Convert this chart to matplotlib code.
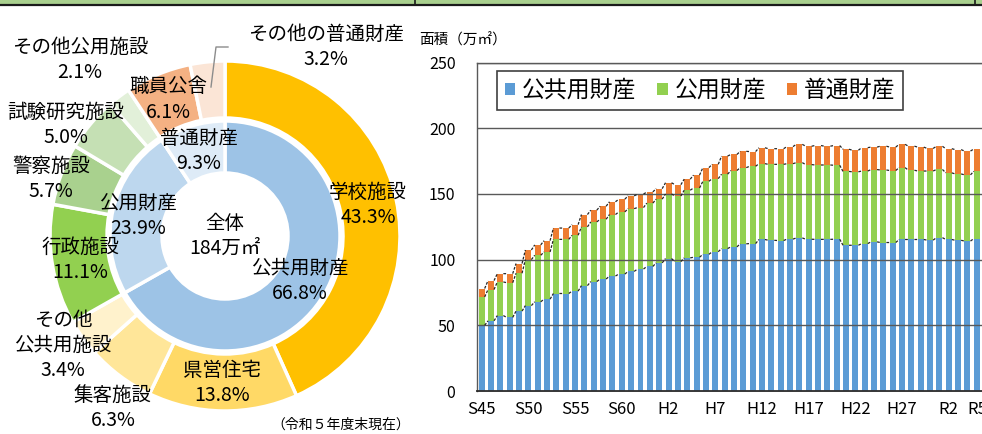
import matplotlib
matplotlib.use('Agg')
import matplotlib.pyplot as plt
from matplotlib.patches import Patch, Rectangle
from matplotlib.lines import Line2D
import numpy as np

plt.rcParams['font.family'] = ['Noto Sans CJK JP', 'DejaVu Sans']

# ---------------- data ----------------
inner_labels = ['公共用財産', '公用財産', '普通財産']
inner_values = [66.8, 23.9, 9.3]
outer_labels = ['学校施設', '県営住宅', '集客施設', 'その他公共用施設',
                '行政施設', '警察施設', '試験研究施設', 'その他公用施設',
                '職員公舎', 'その他の普通財産']
outer_values = [43.3, 13.8, 6.3, 3.4, 11.1, 5.7, 5.0, 2.1, 6.1, 3.2]
total_label = '184万㎡'
asof_label = '（令和５年度末現在）'

categories = ['S45', 'S46', 'S47', 'S48', 'S49', 'S50', 'S51', 'S52', 'S53', 'S54',
              'S55', 'S56', 'S57', 'S58', 'S59', 'S60', 'S61', 'S62', 'S63',
              'H1', 'H2', 'H3', 'H4', 'H5', 'H6', 'H7', 'H8', 'H9', 'H10',
              'H11', 'H12', 'H13', 'H14', 'H15', 'H16', 'H17', 'H18', 'H19', 'H20',
              'H21', 'H22', 'H23', 'H24', 'H25', 'H26', 'H27', 'H28', 'H29', 'H30',
              'R1', 'R2', 'R3', 'R4', 'R5']
tick_labels = ['S45', 'S50', 'S55', 'S60', 'H2', 'H7', 'H12', 'H17', 'H22', 'H27', 'R2', 'R5']

series_names = ['公共用財産', '公用財産', '普通財産']
public = [50.0, 53.4, 57.4, 56.0, 60.8, 65.0, 67.9, 69.9, 74.2, 74.2,
          76.0, 80.2, 83.3, 85.2, 87.5, 89.0, 91.0, 92.8, 94.8,
          97.5, 100.8, 98.5, 101.3, 101.8, 104.0, 106.0, 108.4, 109.7, 112.0,
          112.2, 115.3, 114.7, 114.5, 115.6, 116.5, 115.5, 115.4, 115.4, 115.5,
          110.9, 110.9, 112.2, 113.5, 113.0, 113.0, 115.3, 115.3, 115.3, 114.8,
          116.7, 115.3, 114.7, 114.1, 116.0]
official = [21.6, 23.8, 25.6, 26.4, 28.8, 35.0, 35.4, 35.9, 41.2, 41.2,
            42.5, 44.7, 45.4, 45.5, 46.8, 47.3, 47.8, 46.8, 48.2,
            48.5, 49.2, 49.9, 51.5, 52.7, 55.6, 55.6, 56.6, 58.1, 58.0,
            58.8, 57.7, 57.8, 58.0, 57.4, 57.3, 56.8, 56.6, 56.6, 56.3,
            56.2, 55.9, 55.2, 55.0, 55.2, 54.8, 54.7, 52.7, 52.1, 52.6,
            51.9, 50.7, 50.5, 50.4, 51.2]
general = [6.4, 6.8, 6.3, 6.9, 7.4, 7.3, 7.9, 8.6, 8.6, 8.6,
           8.1, 9.4, 8.9, 9.9, 9.7, 9.7, 9.7, 10.2, 8.5,
           8.0, 8.5, 8.6, 8.4, 9.8, 10.4, 10.9, 13.8, 12.2, 12.4,
           11.2, 12.1, 11.9, 11.9, 13.0, 13.9, 14.0, 14.8, 14.3, 15.0,
           16.9, 16.4, 17.8, 17.1, 18.1, 17.8, 17.7, 18.3, 18.2, 17.2,
           17.6, 18.4, 18.5, 18.1, 17.0]

# ---------------- style ----------------
inner_colors = ['#9DC3E6', '#BDD7EE', '#DEEBF7']
outer_colors = ['#FFC000', '#FFD966', '#FFE699', '#FFF2CC',
                '#92D050', '#A9D18E', '#C5E0B4', '#E2F0D9',
                '#F4B183', '#FBE5D6']
bar_colors = ['#5B9BD5', '#92D050', '#ED7D31']

W, H = 982, 434
fig = plt.figure(figsize=(W / 100, H / 100), dpi=100)
fig.patch.set_facecolor('white')


def fx(px):
    return px / W


def fy(py):
    return 1 - py / H


# top band
fig.add_artist(Rectangle((0, fy(4.5)), 1, 4.5 / H, transform=fig.transFigure,
                         facecolor='#A9D08E', edgecolor='none', zorder=0))
fig.add_artist(Line2D([0, 1], [fy(4.8), fy(4.8)], transform=fig.transFigure,
                      color='#1a1a1a', lw=1.6))
for vx in (415, 975):
    fig.add_artist(Line2D([fx(vx), fx(vx)], [1, fy(4.8)], transform=fig.transFigure,
                          color='#1a1a1a', lw=1.2))

# ---------------- donut ----------------
cx, cy, half = 225, 236, 185
pax = fig.add_axes([fx(cx - half), fy(cy + half), 2 * half / W, 2 * half / H])
pax.pie(outer_values, radius=175, startangle=90, counterclock=False,
        colors=outer_colors,
        wedgeprops=dict(width=57, edgecolor='white', linewidth=2.5))
pax.pie(inner_values, radius=115, startangle=90, counterclock=False,
        colors=inner_colors,
        wedgeprops=dict(width=52, edgecolor='white', linewidth=2.5))
pax.set_xlim(-half, half)
pax.set_ylim(-half, half)
pax.set_aspect('equal')
pax.axis('off')

FS = 14


def label(lines, x, y0, dy=25.5, size=FS):
    for k, s in enumerate(lines):
        fig.text(fx(x), fy(y0 + k * dy), s, ha='center', va='center', fontsize=size,
                 color='#000000')


def pct(v):
    return f'{v:.1f}%'


# outer labels
label([outer_labels[0], pct(outer_values[0])], 368, 192)
label([outer_labels[1], pct(outer_values[1])], 222, 370)
label([outer_labels[2], pct(outer_values[2])], 113, 395)
label(['その他', '公共用施設', pct(outer_values[3])], 63, 320)
label([outer_labels[4], pct(outer_values[4])], 80, 247)
label([outer_labels[5], pct(outer_values[5])], 51, 166)
label([outer_labels[6], pct(outer_values[6])], 66, 112)
label([outer_labels[7], pct(outer_values[7])], 80, 47)
label([outer_labels[8], pct(outer_values[8])], 168, 87)
label([outer_labels[9], pct(outer_values[9])], 326, 34)
# inner labels
label([inner_labels[0], pct(inner_values[0])], 300, 268)
label([inner_labels[1], pct(inner_values[1])], 138, 203)
label([inner_labels[2], pct(inner_values[2])], 199, 138)
label(['全体', total_label], 225, 223)
fig.text(fx(341), fy(425), asof_label, ha='center', va='center', fontsize=10)

# leader line for その他の普通財産
fig.add_artist(Line2D([fx(228), fx(216), fx(211)], [fy(47), fy(47), fy(87)],
                      transform=fig.transFigure, color='#8c8c8c', lw=1.0))

# ---------------- stacked bars ----------------
ax_l, ax_r, ax_t, ax_b = 477, 981.5, 62.5, 391
bax = fig.add_axes([fx(ax_l), fy(ax_b), (ax_r - ax_l) / W, (ax_b - ax_t) / H])
n = len(categories)
x = np.arange(n)
pub = np.array(public)
off = np.array(official)
gen = np.array(general)
bw = 0.64
bax.bar(x, pub, width=bw, color=bar_colors[0], zorder=1)
bax.bar(x, off, width=bw, bottom=pub, color=bar_colors[1], zorder=1)
bax.bar(x, gen, width=bw, bottom=pub + off, color=bar_colors[2], zorder=1)

# series lines
for lev in (pub, pub + off, pub + off + gen):
    xs, ys = [], []
    for i in range(n - 1):
        xs += [x[i] + bw / 2, x[i + 1] - bw / 2, np.nan]
        ys += [lev[i], lev[i + 1], np.nan]
    bax.plot(xs, ys, color='#262626', lw=0.9, dashes=(2.2, 1.2), zorder=4)

bax.set_xlim(-0.5, n - 0.5)
bax.set_ylim(0, 250)
bax.set_yticks(np.arange(0, 251, 50))
tick_idx = [categories.index(t) for t in tick_labels]
bax.set_xticks(tick_idx)
bax.set_xticklabels(tick_labels)
bax.tick_params(axis='x', length=0, pad=7, labelsize=12)
bax.tick_params(axis='y', length=0, pad=15.5, labelsize=11.5)
bax.set_axisbelow(False)
bax.yaxis.grid(True, color='#595959', lw=1.0)
for s in ('left', 'top'):
    bax.spines[s].set_color('#595959')
    bax.spines[s].set_linewidth(1.0)
bax.spines['bottom'].set_color('#262626')
bax.spines['bottom'].set_linewidth(1.3)
bax.spines['right'].set_visible(False)

handles = [Patch(facecolor=c, edgecolor='none') for c in bar_colors]
leg = bax.legend(handles, series_names, ncol=3, loc='upper left',
                 bbox_to_anchor=(20 / (ax_r - ax_l), 1 - 8.5 / (ax_b - ax_t)),
                 frameon=True, fancybox=False, edgecolor='#404040', framealpha=1,
                 fontsize=16.5, handlelength=0.45, handleheight=0.45,
                 handletextpad=0.3, columnspacing=0.9, borderpad=0.35,
                 borderaxespad=0)
leg.get_frame().set_linewidth(1.2)
leg.set_zorder(10)

fig.text(fx(419), fy(40), '面積（万㎡）', ha='left', va='center', fontsize=10.5)

fig.savefig('out.png', dpi=100)
